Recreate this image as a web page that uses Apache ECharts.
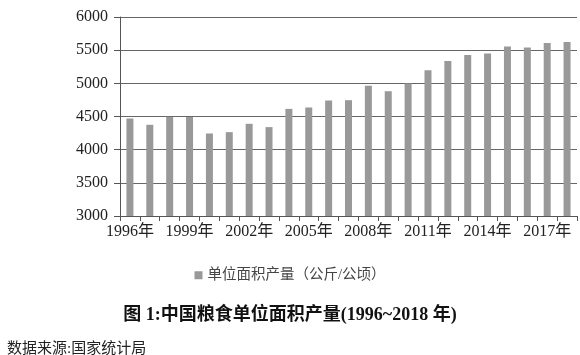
<!DOCTYPE html>
<html><head><meta charset="utf-8">
<script src="https://cdn.jsdelivr.net/npm/echarts@6/dist/echarts.min.js"></script>
<style>html,body{margin:0;padding:0;background:#fff}#c{width:580px;height:355px}</style>
</head><body><div id="c"></div>
<script>
const years = ['1996年','1997年','1998年','1999年','2000年','2001年','2002年','2003年','2004年','2005年','2006年','2007年','2008年','2009年','2010年','2011年','2012年','2013年','2014年','2015年','2016年','2017年','2018年'];
const yieldPerHa = [4470,4375,4495,4493,4244,4264,4390,4340,4615,4636,4741,4746,4962,4881,4997,5197,5338,5428,5448,5554,5539,5609,5624];
const seriesName = '单位面积产量（公斤/公顷）';
const titleText = '图 1:中国粮食单位面积产量(1996~2018 年)';
const sourceText = '数据来源:国家统计局';

const serif = '"Liberation Serif","DejaVu Serif","Noto Sans CJK SC",serif';
const chart = echarts.init(document.getElementById('c'));
chart.setOption({
  animation: false,
  backgroundColor: '#fff',
  grid: {left: 120, right: 3, top: 17, bottom: 139},
  legend: {
    data: [seriesName], left: 'center', top: 263, itemWidth: 8, itemHeight: 8, itemGap: 6,
    icon: 'rect',
    textStyle: {fontFamily: serif, fontSize: 14.5, color: '#444'}
  },
  title: [
    {text: titleText, left: 'center', top: 301, textStyle: {fontFamily: serif, fontSize: 18, fontWeight: 'bold', color: '#111'}},
    {text: sourceText, left: 2, top: 337, textStyle: {fontFamily: serif, fontSize: 15, fontWeight: 'normal', color: '#222'}}
  ],
  xAxis: {
    type: 'category', data: years, boundaryGap: true,
    axisLine: {lineStyle: {color: '#555', width: 1}},
    axisTick: {show: true, interval: 0, length: 5, lineStyle: {color: '#555'}},
    axisLabel: {interval: 2, fontFamily: serif, fontSize: 16, color: '#222', margin: 8}
  },
  yAxis: {
    type: 'value', min: 3000, max: 6000, interval: 500,
    axisLine: {show: true, lineStyle: {color: '#555'}},
    axisTick: {show: true, length: 6, lineStyle: {color: '#555'}},
    splitLine: {lineStyle: {color: '#666', width: 1}},
    axisLabel: {fontFamily: serif, fontSize: 16, color: '#222', margin: 12, formatter: v => String(v)}
  },
  series: [{
    name: seriesName, type: 'bar', data: yieldPerHa, barWidth: 7,
    itemStyle: {color: '#999999'}
  }]
});
</script></body></html>
